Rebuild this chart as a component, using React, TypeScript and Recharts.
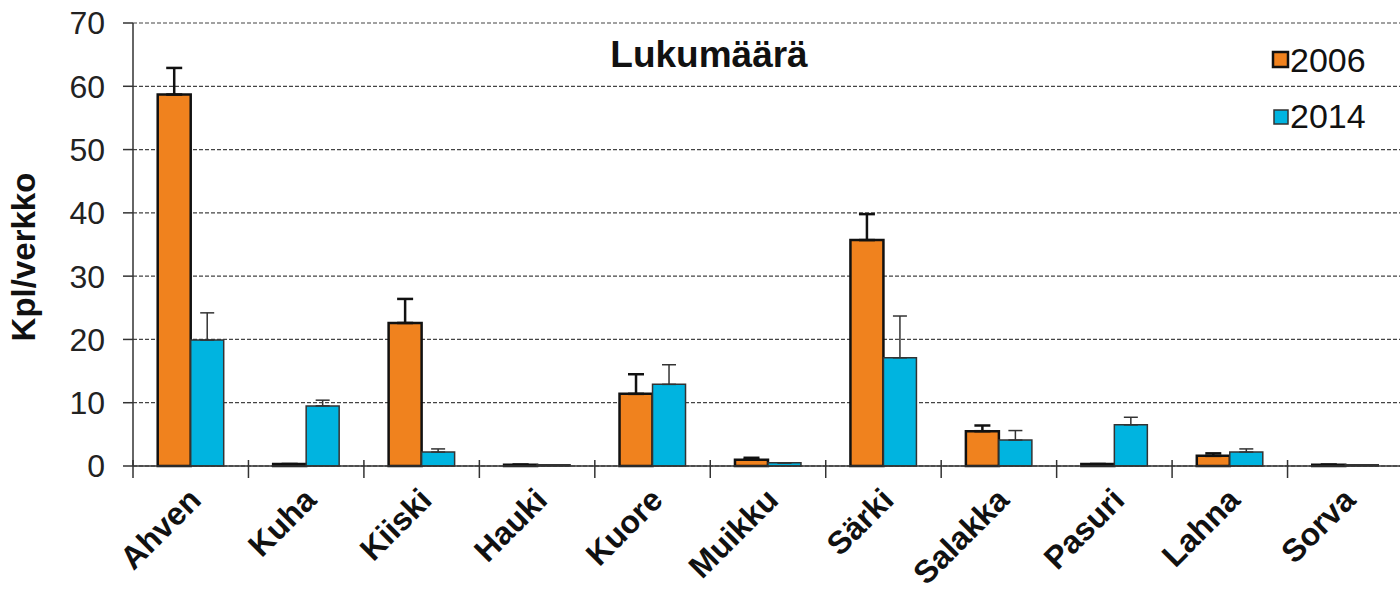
import React from "react";
import { BarChart, Bar, XAxis, YAxis, CartesianGrid, ErrorBar } from "recharts";

const species = ["Ahven", "Kuha", "Kiiski", "Hauki", "Kuore", "Muikku", "Särki", "Salakka", "Pasuri", "Lahna", "Sorva"];
const count2006 = [58.7, 0.3, 22.6, 0.2, 11.4, 1.0, 35.7, 5.5, 0.3, 1.6, 0.2];
const err2006 = [4.2, 0, 3.8, 0, 3.1, 0.3, 4.1, 0.9, 0, 0.4, 0];
const count2014 = [19.9, 9.5, 2.2, 0.2, 12.9, 0.5, 17.1, 4.1, 6.5, 2.2, 0.2];
const err2014 = [4.3, 0.9, 0.5, 0, 3.1, 0, 6.6, 1.5, 1.2, 0.5, 0];
const yTicks = [0, 10, 20, 30, 40, 50, 60, 70];

const ORANGE = "#f0821e";
const BLUE = "#00b4e0";
const FONT = "'Liberation Sans', Arial, sans-serif";

const CHART_W = 1403;
const PLOT_LEFT = 133;
const BAND = (CHART_W - PLOT_LEFT) / species.length;

const data = species.map((name, i) => ({
  name,
  y2006: count2006[i],
  e2006: [0, err2006[i]],
  y2014: count2014[i],
  e2014: [0, err2014[i]],
}));

// category labels rotated, with tick marks on the band edges
const XTick = (props: any) => {
  const { x, y, payload } = props;
  const left = x - BAND / 2;
  const ax = x + 12;
  const ay = y + 36;
  return (
    <g>
      <line x1={left} y1={y - 6} x2={left} y2={y + 12} stroke="#333" strokeWidth={1.5} />
      <text
        x={ax}
        y={ay}
        textAnchor="end"
        transform={`rotate(-45, ${ax}, ${ay})`}
        fontFamily={FONT}
        fontWeight="bold"
        fontSize={32}
        fill="#111"
      >
        {payload.value}
      </text>
    </g>
  );
};

export default function App() {
  return (
    <div
      style={{
        position: "absolute",
        left: 0,
        top: 0,
        width: 1400,
        height: 590,
        overflow: "hidden",
        background: "#fff",
      }}
    >
      <BarChart
        width={CHART_W}
        height={590}
        data={data}
        margin={{ top: 23, right: 0, bottom: 0, left: 0 }}
        barCategoryGap="21.4%"
        barGap={0}
      >
        <CartesianGrid vertical={false} stroke="#444" strokeDasharray="4 2" strokeWidth={1.2} />
        <XAxis
          dataKey="name"
          height={124}
          interval={0}
          tickLine={false}
          tickSize={0}
          tickMargin={0}
          axisLine={{ stroke: "#333", strokeWidth: 1.5 }}
          tick={<XTick />}
        />
        <YAxis
          width={PLOT_LEFT}
          domain={[0, 70]}
          ticks={yTicks}
          interval={0}
          tickSize={10}
          tickMargin={18}
          axisLine={{ stroke: "#333", strokeWidth: 1.5 }}
          tickLine={{ stroke: "#333", strokeWidth: 1.5 }}
          tick={{ fontFamily: FONT, fontSize: 32, fill: "#222" }}
          label={{
            content: () => (
              <text
                x={23}
                y={257}
                transform="rotate(-90, 23, 257)"
                textAnchor="middle"
                dominantBaseline="central"
                fontFamily={FONT}
                fontWeight="bold"
                fontSize={33}
                fill="#111"
              >
                Kpl/verkko
              </text>
            ),
          }}
        />
        <Bar dataKey="y2006" name="2006" fill={ORANGE} stroke="#111" strokeWidth={2.5} isAnimationActive={false}>
          <ErrorBar dataKey="e2006" direction="y" width={8} stroke="#111" strokeWidth={2.5} />
        </Bar>
        <Bar dataKey="y2014" name="2014" fill={BLUE} stroke="#333" strokeWidth={1.5} isAnimationActive={false}>
          <ErrorBar dataKey="e2014" direction="y" width={7} stroke="#333" strokeWidth={1.5} />
        </Bar>
      </BarChart>
      {/* title and legend drawn over the plot */}
      <svg
        width={1400}
        height={590}
        style={{ position: "absolute", left: 0, top: 0, pointerEvents: "none" }}
      >
        <text x={709} y={67} textAnchor="middle" fontFamily={FONT} fontWeight="bold" fontSize={37} fill="#111">
          Lukumäärä
        </text>
        <rect x={1273} y={52} width={15} height={15} fill={ORANGE} stroke="#111" strokeWidth={2.5} />
        <text x={1290} y={72} fontFamily={FONT} fontSize={34} fill="#111">
          2006
        </text>
        <rect x={1274} y={110} width={14} height={14} fill={BLUE} stroke="#333" strokeWidth={1.5} />
        <text x={1290} y={128} fontFamily={FONT} fontSize={34} fill="#111">
          2014
        </text>
      </svg>
    </div>
  );
}
